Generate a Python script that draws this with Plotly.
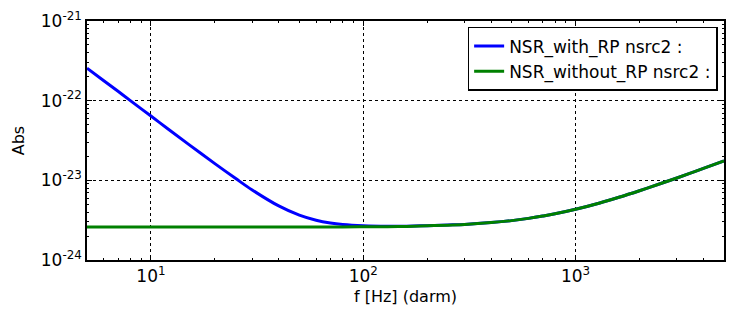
import plotly.graph_objects as go

# ---- values (log-log) ----
freq_hz = [5, 6, 7, 8, 10, 12, 15, 20, 25, 30, 40, 50, 60, 70, 80, 100, 130, 160,
           200, 250, 300, 400, 500, 600, 700, 800, 1000, 1300, 1600, 2000, 2500,
           3000, 3500, 4000, 5000]

nsr_with_rp = [2.56e-22, 1.78e-22, 1.31e-22, 1.00e-22, 6.41e-23, 4.45e-23, 2.85e-23,
               1.62e-23, 1.06e-23, 7.57e-24, 4.77e-24, 3.65e-24, 3.15e-24, 2.91e-24,
               2.79e-24, 2.69e-24, 2.65e-24, 2.66e-24, 2.70e-24, 2.75e-24, 2.80e-24,
               2.95e-24, 3.12e-24, 3.33e-24, 3.56e-24, 3.80e-24, 4.33e-24, 5.20e-24,
               6.13e-24, 7.41e-24, 9.05e-24, 1.07e-23, 1.24e-23, 1.41e-23, 1.75e-23]

nsr_without_rp = [2.60e-24, 2.60e-24, 2.60e-24, 2.60e-24, 2.60e-24, 2.60e-24, 2.60e-24,
                  2.60e-24, 2.60e-24, 2.60e-24, 2.60e-24, 2.60e-24, 2.60e-24, 2.60e-24,
                  2.60e-24, 2.61e-24, 2.62e-24, 2.64e-24, 2.69e-24, 2.74e-24, 2.80e-24,
                  2.95e-24, 3.12e-24, 3.33e-24, 3.56e-24, 3.80e-24, 4.33e-24, 5.20e-24,
                  6.13e-24, 7.41e-24, 9.05e-24, 1.07e-23, 1.24e-23, 1.41e-23, 1.75e-23]

x_tick_vals = [10, 100, 1000]
x_tick_text = ["10<sup>1</sup>", "10<sup>2</sup>", "10<sup>3</sup>"]
y_tick_vals = [1e-24, 1e-23, 1e-22, 1e-21]
y_tick_text = ["10<sup>-24</sup>", "10<sup>-23</sup>", "10<sup>-22</sup>", "10<sup>-21</sup>"]

# minor ticks: 2..9 within each decade
x_minor = [m * 10 ** e for e in range(0, 4) for m in range(2, 10) if 5 < m * 10 ** e < 5000]
y_minor = [m * 10.0 ** e for e in range(-24, -21) for m in range(2, 10)]

FONT = "DejaVu Sans, sans-serif"

fig = go.Figure()
fig.add_trace(go.Scatter(x=freq_hz, y=nsr_with_rp, mode="lines",
                         name="NSR_with_RP nsrc2 :",
                         line=dict(color="#0000ff", width=3, shape="spline")))
fig.add_trace(go.Scatter(x=freq_hz, y=nsr_without_rp, mode="lines",
                         name="NSR_without_RP nsrc2 :",
                         line=dict(color="#008000", width=3, shape="spline")))

axis_common = dict(
    type="log", showline=True, linecolor="black", linewidth=1.5, mirror="ticks",
    ticks="inside", ticklen=5, tickcolor="black", automargin=False,
    showgrid=True, gridcolor="black", griddash="dot", gridwidth=1,
    zeroline=False, tickfont=dict(size=17, color="black"),
)

fig.update_xaxes(range=[0.69897, 3.69897], tickmode="array",
                 tickvals=x_tick_vals, ticktext=x_tick_text,
                 minor=dict(tickmode="array", tickvals=x_minor, ticks="inside",
                            ticklen=2.5, tickcolor="black", showgrid=False),
                 title=dict(text="f [Hz] (darm)", font=dict(size=16, color="black"), standoff=6),
                 **axis_common)
fig.update_yaxes(range=[-24, -21], tickmode="array",
                 tickvals=y_tick_vals, ticktext=y_tick_text,
                 minor=dict(tickmode="array", tickvals=y_minor, ticks="inside",
                            ticklen=2.5, tickcolor="black", showgrid=False),
                 title=dict(text="Abs", font=dict(size=16, color="black"), standoff=12),
                 **axis_common)

fig.update_layout(
    width=736, height=323,
    margin=dict(l=87, r=12, t=21, b=63),
    paper_bgcolor="white", plot_bgcolor="white",
    font=dict(family=FONT, size=16, color="black"),
    legend=dict(x=0.99, y=0.975, xanchor="right", yanchor="top",
                bordercolor="black", borderwidth=1.5, bgcolor="white",
                font=dict(size=17)),
)

# page body has an 8px default margin; drop it so the figure sits at 0,0
fig.write_html("out.html", config={"displayModeBar": False},
               post_script="document.body.style.margin='0';")
